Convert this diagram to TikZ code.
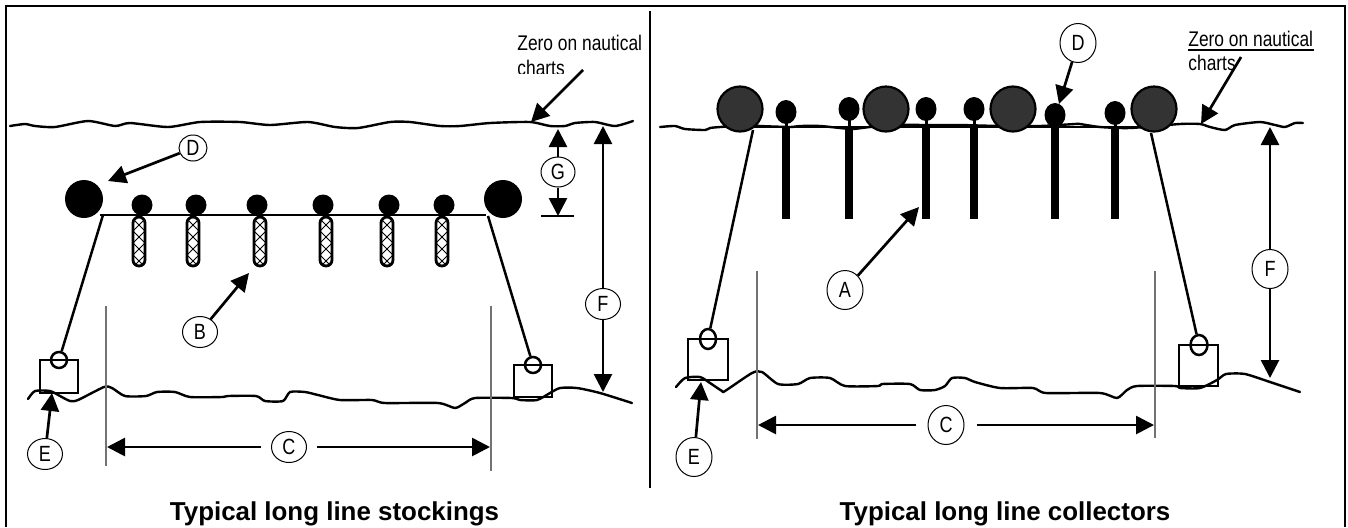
\documentclass[tikz,border=0pt]{standalone}
\usepackage{fontspec}
\setmainfont{Liberation Sans}
\newfontfamily\narrowf[FakeStretch=0.82]{Liberation Sans}
\usetikzlibrary{arrows.meta,shapes.geometric}
\tikzset{
  wave/.style={line width=1.2pt,line join=round,line cap=round},
  rope/.style={line width=1.25pt},
  guide/.style={line width=.7pt,draw=black!55},
  dim/.style={line width=1.35pt,-{Triangle[length=9pt,width=9pt]}},
  tag/.style={ellipse,draw,line width=.5pt,inner sep=0pt,fill=white,font=\fontsize{11}{12}\selectfont\narrowf},
  tagS/.style={tag,minimum width=17.5pt,minimum height=15.5pt},
  tagM/.style={tag,minimum width=18pt,minimum height=19.5pt},
  blackball/.style={circle,fill=black,inner sep=0pt,minimum size=21pt},
  smallball/.style={circle,fill=black,inner sep=0pt,minimum size=10.5pt},
  bigball/.style={circle,fill=black!80,draw=black,line width=1.1pt,inner sep=0pt,minimum size=22.5pt},
  floatball/.style={ellipse,fill=black,inner sep=0pt,minimum width=10.5pt,minimum height=12pt},
  block/.style={draw,line width=1.25pt,fill=none,inner sep=0pt},
  ring/.style={ellipse,draw,line width=1.25pt,inner sep=0pt},
  note/.style={anchor=base west,inner sep=0pt,font=\fontsize{10.6}{12}\selectfont\narrowf},
  heading/.style={anchor=base,inner sep=0pt,font=\fontsize{12.95}{14}\selectfont\bfseries},
}
\newcommand{\stockbar}[2]{%
  \begin{scope}
    \clip[rounded corners=3pt] (#1-6,217) rectangle (#1+6,266);
    \draw[line width=.4pt] (#1-6,219) -- (#1+6,231) -- (#1-6,243) -- (#1+6,255) -- (#1-6,267);
    \draw[line width=.4pt] (#1+6,219) -- (#1-6,231) -- (#1+6,243) -- (#1-6,255) -- (#1+6,267);
  \end{scope}
  \draw[line width=1.4pt,rounded corners=3pt] (#1-6,217) rectangle (#1+6,266);
}
\begin{document}
\begin{tikzpicture}[x=.5pt,y=-.5pt]
\useasboundingbox (0,0) rectangle (1348,527);
\fill[white] (0,0) rectangle (1348,527);
% frame and divider
\draw[line width=1.2pt] (6,527) -- (6,6) -- (1345,6) -- (1345,527);
\draw[line width=1.2pt] (650,11) -- (650,488);
% ---------- left panel
\draw[wave] plot[smooth,tension=.4] coordinates {(10,126)(25,124)(35,126)(55,127)(88,121)(115,126)(130,123)(168,127)(200,122)(240,122)(270,125)(308,122)(335,127)(358,128)(390,122)(410,122)(440,126)(460,126)(490,123)(530,122)(550,126)(565,126)(575,123)(595,122)(615,126)(633,121)};
\draw[wave] plot[smooth,tension=.4] coordinates {(28,399)(35,391)(50,391)(60,396)(70,401)(78,400)(104,387)(112,388)(125,396)(146,396)(157,392)(175,392)(190,397)(222,397)(228,396)(256,396)(265,401)(283,401)(290,392)(305,392)(318,395)(340,400)(372,400)(385,403)(438,403)(455,408)(465,403)(475,398)(512,398)(520,400)(537,400)(550,393)(560,388)(577,388)(600,393)(632,403)};
\draw[line width=1.25pt] (100,215) -- (486,215);
\foreach \sx in {139,193,260,326,387,442} {\stockbar{\sx}}
\foreach \bx/\bn in {142/a,196/b,257/c,323/d,389/e,444/f} {\node[smallball] (ls\bn) at (\bx,205) {};}
\node[blackball,minimum size=19pt] (lbigA) at (84,199) {};
\node[blackball,minimum size=19pt] (lbigB) at (503,199) {};
\node[block,minimum width=19pt,minimum height=16.5pt] (lboxA) at (59,376.5) {};
\node[block,minimum width=19pt,minimum height=16pt] (lboxB) at (533,381) {};
\node[ring,minimum width=8pt,minimum height=8pt] (lringA) at (59,360) {};
\node[ring,minimum width=8pt,minimum height=8pt] (lringB) at (533,365) {};
\coordinate (lropeA) at (103,215);
\coordinate (lropeB) at (488,216);
\draw[rope] (lropeA) -- (lringA);
\draw[rope] (lropeB) -- (lringB);
\coordinate (lgA1) at (106,306); \coordinate (lgA2) at (106,466);
\coordinate (lgB1) at (491,306); \coordinate (lgB2) at (491,471);
\draw[guide] (lgA1) -- (lgA2);
\draw[guide] (lgB1) -- (lgB2);
\node[tagS] (lC) at (289,447) {C};
\coordinate (lCl) at (107,447); \coordinate (lCr) at (490,447);
\draw[dim,shorten <=5pt] (lC) -- (lCl);
\draw[dim,shorten <=5pt] (lC) -- (lCr);
\node[tagS] (lB) at (200,332) {B};
\coordinate (lBt) at (249,273);
\draw[dim] (lB) -- (lBt);
\node[tagS] (lE) at (45,454) {E};
\coordinate (lEt) at (52,393);
\draw[dim] (lE) -- (lEt);
\node[tag,minimum width=14pt,minimum height=13pt] (lD) at (193,148) {D};
\coordinate (lDt) at (108,181);
\draw[dim] (lD) -- (lDt);
\node[tag,minimum width=17pt,minimum height=15pt] (lG) at (558,172) {G};
\coordinate (lGu) at (558,129); \coordinate (lGd) at (558,216);
\draw[dim] (lG) -- (lGu);
\draw[dim] (lG) -- (lGd);
\coordinate (lGa) at (541,216); \coordinate (lGb) at (574,216);
\draw[line width=1.25pt] (lGa) -- (lGb);
\node[tagS] (lF) at (603,304) {F};
\coordinate (lFu) at (603,126); \coordinate (lFd) at (603,392);
\draw[dim] (lF) -- (lFu);
\draw[dim] (lF) -- (lFd);
\begin{scope}
  \clip (500,20) rectangle (648,73);
  \node[note] (lZero) at (517,50.5) {Zero on nautical};
  \node[note] (lCharts) at (517,75) {charts};
\end{scope}
\coordinate (lZs) at (583,70); \coordinate (lZt) at (531,122);
\draw[dim] (lZs) -- (lZt);
\node[heading] (lTitle) at (334.5,520) {Typical long line stockings};
% ---------- right panel
\draw[wave] plot[smooth,tension=.4] coordinates {(660,127)(675,126)(685,129)(705,130)(710,128)(720,127)(750,125)(760,126)(790,127)(800,126)(820,126)(840,128)(853,129)(870,127)(900,125)(930,125)(960,125)(1000,126)(1040,126)(1075,124)(1080,124)(1100,127)(1130,128)(1180,124)(1200,124)(1210,127)(1225,130)(1235,125)(1260,122)(1275,125)(1285,127)(1295,123)(1303,123)};
\draw[line width=1.2pt] (745,127) -- (1160,127);
\draw[wave] plot[smooth,tension=.4] coordinates {(676,387)(685,378)(700,377)(710,383)(722,391)(725,391)(752,373)(762,372)(778,384)(798,384)(810,378)(830,378)(845,386)(878,386)(882,384)(910,384)(920,390)(935,390)(945,386)(952,378)(965,378)(975,382)(1000,388)(1033,388)(1046,393)(1100,393)(1117,398)(1127,390)(1137,386)(1175,386)(1180,388)(1200,388)(1217,380)(1226,374)(1245,374)(1270,382)(1285,387)(1300,392)};
\foreach \px/\py/\pn in {786/112/a,849/109/b,926/109/c,974/109/d,1055/115/e,1115/113/f} {
  \node[floatball] (rs\pn) at (\px,\py) {};
  \draw[line width=1.5pt] (\px,\py) -- (\px,130);
  \fill[black] (\px-4,127) rectangle (\px+4,219);
}
\foreach \qx/\qn in {740/a,886/b,1013/c,1154/d} {\node[bigball] (rbig\qn) at (\qx,109) {};}
\node[block,minimum width=20pt,minimum height=20.5pt] (rboxA) at (708,359.5) {};
\node[block,minimum width=19.5pt,minimum height=20.5pt] (rboxB) at (1198.5,365.5) {};
\node[ring,minimum width=8pt,minimum height=10pt] (rringA) at (708,339) {};
\node[ring,minimum width=8.5pt,minimum height=10pt] (rringB) at (1199,345) {};
\coordinate (rropeA) at (753,130);
\coordinate (rropeB) at (1151,133);
\draw[rope] (rropeA) -- (rringA);
\draw[rope] (rropeB) -- (rringB);
\coordinate (rgA1) at (757,271); \coordinate (rgA2) at (757,439);
\coordinate (rgB1) at (1155,271); \coordinate (rgB2) at (1155,438);
\draw[guide] (rgA1) -- (rgA2);
\draw[guide] (rgB1) -- (rgB2);
\node[tagM] (rC) at (946,425) {C};
\coordinate (rCl) at (758,425); \coordinate (rCr) at (1154,425);
\draw[dim,shorten <=6pt] (rC) -- (rCl);
\draw[dim,shorten <=6pt] (rC) -- (rCr);
\node[tagM] (rA) at (845,290) {A};
\coordinate (rAt) at (919,207);
\draw[dim] (rA) -- (rAt);
\node[tagM] (rE) at (694,457) {E};
\coordinate (rEt) at (701,382);
\draw[dim] (rE) -- (rEt);
\node[tagM] (rD) at (1078,43) {D};
\coordinate (rDt) at (1059,104);
\draw[dim] (rD) -- (rDt);
\node[tagM] (rF) at (1270,269) {F};
\coordinate (rFu) at (1270,127); \coordinate (rFd) at (1270,378);
\draw[dim] (rF) -- (rFu);
\draw[dim] (rF) -- (rFd);
\node[note] (rZero) at (1188,46.5) {Zero on nautical};
\node[note] (rCharts) at (1188,70) {charts};
\coordinate (rUa) at (1188,49.5); \coordinate (rUb) at (1314,49.5);
\draw[line width=1pt] (rUa) -- (rUb);
\coordinate (rZs) at (1241,57); \coordinate (rZt) at (1201,124);
\draw[dim] (rZs) -- (rZt);
\node[heading] (rTitle) at (1005,520) {Typical long line collectors};
\end{tikzpicture}
\end{document}
